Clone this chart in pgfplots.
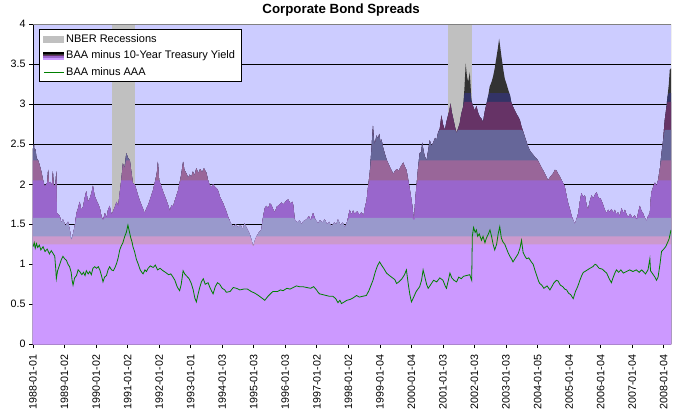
\documentclass[border=0pt]{standalone}
\usepackage{pgfplots}
\pgfplotsset{compat=1.18}
\usepackage{pgfplotstable}
\usepackage{fontspec}
\setmainfont{Liberation Sans}
\definecolor{bgc}{RGB}{204,204,255}
\definecolor{recgray}{RGB}{192,192,192}
\definecolor{cA}{RGB}{51,51,51}
\definecolor{cB}{RGB}{51,51,102}
\definecolor{cC}{RGB}{102,51,102}
\definecolor{cD}{RGB}{102,102,153}
\definecolor{cE}{RGB}{153,102,153}
\definecolor{cF}{RGB}{153,102,204}
\definecolor{cG}{RGB}{153,153,204}
\definecolor{cH}{RGB}{204,153,204}
\definecolor{cI}{RGB}{204,153,255}
\definecolor{lgreen}{RGB}{0,128,0}
\definecolor{bordergray}{RGB}{128,128,128}

\pgfplotstableread{
x y
1988.00 2.45
1988.03 2.50
1988.05 2.40
1988.08 2.44
1988.11 2.33
1988.16 2.30
1988.21 2.24
1988.27 2.15
1988.32 2.05
1988.37 1.97
1988.45 2.02
1988.48 2.18
1988.51 2.01
1988.56 2.03
1988.60 1.98
1988.63 2.16
1988.66 1.97
1988.71 1.99
1988.74 2.16
1988.76 1.64
1988.85 1.60
1988.90 1.52
1988.95 1.56
1989.03 1.48
1989.11 1.53
1989.17 1.42
1989.22 1.30
1989.27 1.38
1989.32 1.47
1989.38 1.64
1989.43 1.70
1989.48 1.78
1989.53 1.68
1989.59 1.72
1989.64 1.83
1989.69 1.91
1989.74 1.78
1989.80 1.82
1989.86 1.90
1989.90 1.98
1989.95 1.86
1990.01 1.80
1990.06 1.76
1990.12 1.70
1990.17 1.60
1990.22 1.55
1990.28 1.64
1990.33 1.58
1990.38 1.68
1990.43 1.73
1990.49 1.62
1990.54 1.66
1990.60 1.72
1990.65 1.78
1990.70 1.72
1990.75 1.89
1990.80 2.05
1990.85 2.26
1990.90 2.20
1990.96 2.39
1991.01 2.33
1991.07 2.30
1991.12 2.15
1991.17 2.01
1991.22 2.00
1991.28 1.93
1991.33 1.86
1991.38 1.80
1991.46 1.72
1991.54 1.64
1991.60 1.70
1991.65 1.74
1991.72 1.82
1991.81 1.93
1991.88 2.05
1991.93 2.15
1991.96 2.28
1992.00 2.05
1992.07 1.97
1992.15 1.88
1992.23 1.80
1992.30 1.72
1992.34 1.66
1992.39 1.74
1992.44 1.72
1992.50 1.80
1992.55 1.86
1992.60 1.92
1992.65 2.02
1992.70 2.12
1992.76 2.28
1992.80 2.18
1992.87 2.13
1992.92 2.08
1992.97 2.12
1993.02 2.09
1993.07 2.16
1993.12 2.11
1993.18 2.20
1993.24 2.14
1993.30 2.19
1993.36 2.15
1993.42 2.20
1993.50 2.14
1993.55 2.05
1993.60 1.99
1993.66 1.96
1993.71 2.00
1993.76 1.97
1993.82 1.95
1993.87 1.92
1993.93 1.84
1993.98 1.80
1994.03 1.76
1994.08 1.71
1994.13 1.66
1994.18 1.60
1994.24 1.54
1994.29 1.50
1994.37 1.47
1994.43 1.50
1994.50 1.46
1994.58 1.49
1994.65 1.44
1994.71 1.51
1994.78 1.45
1994.87 1.38
1994.93 1.30
1994.98 1.22
1995.04 1.30
1995.09 1.35
1995.17 1.40
1995.24 1.43
1995.30 1.60
1995.35 1.70
1995.40 1.73
1995.46 1.70
1995.51 1.76
1995.56 1.74
1995.62 1.68
1995.67 1.65
1995.73 1.72
1995.80 1.74
1995.88 1.77
1995.95 1.75
1996.02 1.79
1996.09 1.81
1996.16 1.76
1996.22 1.78
1996.25 1.74
1996.30 1.56
1996.38 1.52
1996.45 1.55
1996.51 1.50
1996.58 1.54
1996.67 1.56
1996.75 1.60
1996.80 1.55
1996.88 1.64
1996.95 1.56
1997.04 1.51
1997.10 1.55
1997.18 1.52
1997.25 1.56
1997.32 1.50
1997.39 1.53
1997.46 1.47
1997.55 1.52
1997.62 1.50
1997.67 1.56
1997.75 1.49
1997.82 1.52
1997.89 1.46
1997.97 1.54
1998.04 1.68
1998.10 1.62
1998.15 1.67
1998.20 1.63
1998.28 1.66
1998.35 1.62
1998.42 1.65
1998.48 1.60
1998.52 1.70
1998.58 1.80
1998.62 1.95
1998.68 2.15
1998.73 2.43
1998.76 2.62
1998.78 2.73
1998.81 2.56
1998.84 2.50
1998.89 2.61
1998.94 2.57
1998.98 2.63
1999.02 2.52
1999.05 2.56
1999.10 2.46
1999.15 2.39
1999.22 2.30
1999.31 2.22
1999.36 2.18
1999.42 2.13
1999.47 2.16
1999.53 2.19
1999.60 2.17
1999.66 2.22
1999.74 2.27
1999.79 2.22
1999.84 2.18
1999.90 2.05
1999.95 1.93
2000.02 1.75
2000.08 1.55
2000.12 1.80
2000.16 1.98
2000.21 2.20
2000.26 2.39
2000.31 2.40
2000.34 2.52
2000.37 2.45
2000.42 2.35
2000.48 2.30
2000.53 2.42
2000.58 2.55
2000.64 2.48
2000.69 2.52
2000.75 2.58
2000.80 2.56
2000.84 2.64
2000.90 2.70
2000.95 2.86
2001.00 2.75
2001.06 2.68
2001.11 2.78
2001.16 2.86
2001.20 2.92
2001.24 3.01
2001.28 2.90
2001.32 2.83
2001.38 2.72
2001.43 2.64
2001.48 2.70
2001.53 2.76
2001.58 2.88
2001.64 2.97
2001.68 3.20
2001.72 3.51
2001.76 3.35
2001.80 3.28
2001.85 3.40
2001.88 3.20
2001.90 3.05
2001.95 2.98
2002.01 2.92
2002.06 2.98
2002.11 2.90
2002.17 2.84
2002.22 2.82
2002.27 2.78
2002.32 2.90
2002.38 3.01
2002.43 3.10
2002.48 3.22
2002.54 3.28
2002.59 3.35
2002.64 3.45
2002.70 3.60
2002.74 3.70
2002.78 3.82
2002.82 3.70
2002.86 3.58
2002.91 3.44
2002.96 3.32
2003.01 3.26
2003.07 3.18
2003.12 3.12
2003.17 3.02
2003.22 2.97
2003.28 2.92
2003.33 2.88
2003.39 2.84
2003.44 2.80
2003.49 2.72
2003.54 2.66
2003.59 2.60
2003.64 2.54
2003.70 2.47
2003.76 2.42
2003.81 2.39
2003.86 2.37
2003.91 2.34
2003.97 2.32
2004.02 2.29
2004.07 2.25
2004.12 2.21
2004.18 2.17
2004.23 2.13
2004.28 2.09
2004.33 2.05
2004.38 2.08
2004.44 2.11
2004.50 2.14
2004.55 2.18
2004.60 2.17
2004.65 2.13
2004.70 2.10
2004.76 2.05
2004.81 2.01
2004.86 1.97
2004.92 1.85
2004.97 1.76
2005.03 1.68
2005.08 1.60
2005.13 1.55
2005.18 1.50
2005.24 1.57
2005.29 1.64
2005.34 1.78
2005.39 1.89
2005.44 1.84
2005.50 1.86
2005.55 1.74
2005.60 1.68
2005.65 1.78
2005.71 1.86
2005.76 1.82
2005.82 1.87
2005.87 1.90
2005.93 1.83
2006.00 1.82
2006.03 1.79
2006.08 1.74
2006.13 1.68
2006.18 1.64
2006.24 1.68
2006.29 1.65
2006.34 1.69
2006.40 1.64
2006.45 1.68
2006.50 1.62
2006.55 1.65
2006.61 1.60
2006.66 1.70
2006.72 1.64
2006.77 1.68
2006.82 1.62
2006.87 1.59
2006.94 1.63
2007.00 1.58
2007.08 1.61
2007.14 1.56
2007.20 1.66
2007.24 1.73
2007.29 1.67
2007.35 1.63
2007.40 1.58
2007.45 1.54
2007.50 1.60
2007.56 1.64
2007.58 1.78
2007.61 1.90
2007.66 1.96
2007.72 2.02
2007.77 1.98
2007.82 2.05
2007.88 2.20
2007.93 2.39
2007.98 2.55
2008.03 2.80
2008.08 2.95
2008.12 3.10
2008.16 3.25
2008.19 3.43
2008.23 3.45
}\areadata

\pgfplotstableread{
x y
1988.00 1.22
1988.04 1.27
1988.07 1.20
1988.11 1.26
1988.15 1.21
1988.20 1.24
1988.25 1.18
1988.32 1.22
1988.38 1.16
1988.45 1.19
1988.52 1.13
1988.58 1.17
1988.63 1.14
1988.69 1.10
1988.72 0.95
1988.74 0.82
1988.78 0.92
1988.85 1.00
1988.90 1.06
1988.95 1.10
1989.00 1.07
1989.06 1.05
1989.11 1.00
1989.16 0.97
1989.21 0.90
1989.24 0.80
1989.27 0.74
1989.32 0.83
1989.38 0.86
1989.43 0.93
1989.48 0.91
1989.55 0.87
1989.60 0.90
1989.65 0.86
1989.69 0.92
1989.75 0.88
1989.80 0.91
1989.85 0.87
1989.90 0.95
1989.96 0.97
1990.01 0.95
1990.07 0.97
1990.12 0.93
1990.17 0.86
1990.22 0.78
1990.27 0.84
1990.33 0.86
1990.38 0.93
1990.43 0.97
1990.49 0.93
1990.55 0.92
1990.60 0.96
1990.65 1.01
1990.70 1.08
1990.75 1.18
1990.80 1.23
1990.85 1.27
1990.91 1.35
1990.96 1.40
1991.01 1.49
1991.05 1.42
1991.10 1.33
1991.14 1.28
1991.17 1.22
1991.22 1.16
1991.28 1.06
1991.33 1.01
1991.40 0.93
1991.45 0.90
1991.49 0.88
1991.55 0.93
1991.60 0.91
1991.65 0.95
1991.72 0.98
1991.81 0.96
1991.88 0.99
1991.95 0.93
1992.03 0.95
1992.12 0.92
1992.20 0.90
1992.30 0.87
1992.37 0.88
1992.44 0.84
1992.50 0.80
1992.56 0.73
1992.60 0.70
1992.65 0.67
1992.70 0.75
1992.76 0.92
1992.81 0.88
1992.88 0.85
1992.95 0.82
1993.02 0.76
1993.08 0.68
1993.13 0.58
1993.18 0.53
1993.23 0.62
1993.28 0.70
1993.34 0.78
1993.40 0.82
1993.46 0.75
1993.55 0.77
1993.62 0.70
1993.67 0.66
1993.71 0.63
1993.78 0.72
1993.85 0.77
1993.92 0.75
1994.00 0.70
1994.08 0.68
1994.13 0.65
1994.25 0.66
1994.35 0.71
1994.45 0.70
1994.56 0.68
1994.68 0.69
1994.80 0.69
1994.92 0.66
1995.03 0.64
1995.15 0.61
1995.25 0.58
1995.35 0.55
1995.45 0.60
1995.55 0.64
1995.61 0.66
1995.75 0.66
1995.85 0.68
1995.93 0.67
1996.05 0.70
1996.15 0.69
1996.25 0.71
1996.35 0.73
1996.45 0.72
1996.56 0.72
1996.68 0.71
1996.80 0.70
1996.90 0.72
1996.99 0.68
1997.04 0.65
1997.09 0.63
1997.20 0.62
1997.30 0.61
1997.40 0.60
1997.51 0.60
1997.60 0.57
1997.67 0.52
1997.73 0.55
1997.78 0.51
1997.83 0.52
1997.95 0.55
1998.05 0.56
1998.15 0.58
1998.26 0.61
1998.35 0.59
1998.45 0.60
1998.57 0.61
1998.65 0.67
1998.72 0.74
1998.78 0.80
1998.85 0.90
1998.92 0.98
1998.99 1.03
1999.05 0.99
1999.12 0.95
1999.21 0.89
1999.30 0.86
1999.40 0.83
1999.47 0.81
1999.53 0.76
1999.60 0.78
1999.70 0.82
1999.78 0.87
1999.84 0.93
1999.90 0.75
1999.95 0.62
2000.00 0.53
2000.06 0.58
2000.15 0.66
2000.26 0.72
2000.32 0.80
2000.37 0.93
2000.42 0.85
2000.48 0.75
2000.53 0.70
2000.60 0.74
2000.70 0.80
2000.80 0.78
2000.90 0.83
2001.00 0.80
2001.07 0.73
2001.11 0.70
2001.17 0.80
2001.22 0.89
2001.28 0.83
2001.35 0.80
2001.43 0.78
2001.50 0.84
2001.58 0.82
2001.65 0.85
2001.75 0.86
2001.85 0.87
2001.91 0.80
2001.93 1.35
2001.97 1.46
2002.02 1.40
2002.06 1.43
2002.10 1.35
2002.15 1.38
2002.22 1.30
2002.27 1.35
2002.33 1.27
2002.38 1.33
2002.44 1.38
2002.49 1.43
2002.54 1.35
2002.59 1.25
2002.64 1.18
2002.70 1.25
2002.75 1.38
2002.80 1.47
2002.85 1.33
2002.90 1.28
2002.96 1.25
2003.01 1.20
2003.07 1.14
2003.12 1.10
2003.17 1.07
2003.22 1.03
2003.30 1.08
2003.38 1.13
2003.44 1.20
2003.49 1.30
2003.54 1.15
2003.60 1.10
2003.65 1.07
2003.72 1.08
2003.80 1.03
2003.86 1.00
2003.92 0.92
2003.98 0.85
2004.03 0.79
2004.07 0.76
2004.13 0.74
2004.20 0.70
2004.30 0.73
2004.39 0.68
2004.45 0.72
2004.52 0.77
2004.60 0.80
2004.65 0.79
2004.72 0.74
2004.80 0.72
2004.86 0.69
2004.92 0.68
2004.98 0.64
2005.05 0.62
2005.13 0.57
2005.20 0.66
2005.27 0.72
2005.34 0.80
2005.40 0.86
2005.45 0.90
2005.50 0.91
2005.58 0.93
2005.66 0.95
2005.75 0.97
2005.82 1.00
2005.87 0.99
2005.95 0.95
2006.05 0.94
2006.13 0.91
2006.19 0.89
2006.27 0.82
2006.34 0.77
2006.40 0.84
2006.46 0.90
2006.50 0.93
2006.57 0.90
2006.64 0.93
2006.72 0.89
2006.82 0.91
2006.92 0.93
2007.02 0.91
2007.13 0.93
2007.22 0.90
2007.30 0.93
2007.35 0.91
2007.42 0.88
2007.50 0.93
2007.56 1.07
2007.58 0.92
2007.65 0.88
2007.72 0.84
2007.77 0.80
2007.82 0.84
2007.88 1.00
2007.93 1.16
2008.00 1.19
2008.06 1.22
2008.12 1.27
2008.17 1.32
2008.23 1.43
}\aaadata

\pgfplotsset{band/.style 2 args={forget plot, draw=none, fill=#1, y filter/.expression={min(y,#2)}}}

\begin{document}
\begin{tikzpicture}
\begin{axis}[
  scale only axis, width=638pt, height=320pt,
  xmin=1988, xmax=2008.23, ymin=0, ymax=4,
  axis background/.style={fill=bgc},
  axis x line*=bottom, axis y line*=left,
  axis line style={black, line width=0.8pt},
  ytick={0,0.5,1,1.5,2,2.5,3,3.5,4},
  ymajorgrids, grid style={black, line width=0.8pt},
  xtick={1988,1989,1990,1991,1992,1993,1994,1995,1996,1997,1998,1999,2000,2001,2002,2003,2004,2005,2006,2007,2008},
  xticklabels={1988-01-01,1989-01-02,1990-01-02,1991-01-02,1992-01-02,1993-01-01,1994-01-03,1995-01-03,1996-01-03,1997-01-02,1998-01-02,1999-01-04,2000-01-04,2001-01-03,2002-01-03,2003-01-03,2004-01-05,2005-01-04,2006-01-04,2007-01-04,2008-01-04},
  xticklabel style={rotate=90, anchor=east},
  xticklabel shift=3pt,
  tick align=outside, major tick length=4pt,
  tick style={black, line width=0.8pt},
  tick label style={font=\fontsize{10.7}{12}\selectfont},
  /pgf/number format/assume math mode=true,
  title={Corporate Bond Spreads},
  title style={at={(0.483,1)}, anchor=base, yshift=5pt, font=\bfseries\fontsize{13.3}{15}\selectfont},
  legend style={at={(axis description cs:0.0094,0.985)}, anchor=north west,
    draw=black, line width=0.8pt, fill=white, font=\fontsize{11}{12}\selectfont,
    inner xsep=4pt, inner ysep=4pt, row sep=5.7pt,
    nodes={inner xsep=2pt, inner ysep=0pt, text height=8.5pt, text depth=2.5pt}},
  legend cell align=left,
]
\addlegendimage{legend image code/.code={\fill[recgray] (0pt,-3pt) rectangle (20pt,3pt);}}
\addlegendentry{NBER Recessions}
\addlegendimage{legend image code/.code={
  \fill[cI] (0pt,-3.5pt) rectangle (20pt,-1.5pt);
  \fill[cF] (0pt,-1.5pt) rectangle (20pt,0pt);
  \fill[cC] (0pt,0pt) rectangle (20pt,1.5pt);
  \fill[cA] (0pt,1.5pt) rectangle (20pt,2.5pt);
  \fill[black] (0pt,2.5pt) rectangle (20pt,3.5pt);}}
\addlegendentry{BAA minus 10-Year Treasury Yield}
\addlegendimage{legend image code/.code={\draw[lgreen, line width=0.8pt] (0pt,0pt) -- (20pt,0pt);}}
\addlegendentry{BAA minus AAA}

% recessions
\addplot[forget plot, draw=none, fill=recgray] coordinates {(1990.50,0) (1990.50,4) (1991.25,4) (1991.25,0)} -- cycle;
\addplot[forget plot, draw=none, fill=recgray] coordinates {(2001.17,0) (2001.17,4) (2001.92,4) (2001.92,0)} -- cycle;

% banded area
\addplot[forget plot, draw=none, fill=cA] table {\areadata} \closedcycle;
\addplot[band={cB}{3.14}] table {\areadata} \closedcycle;
\addplot[band={cC}{3.03}] table {\areadata} \closedcycle;
\addplot[band={cD}{2.68}] table {\areadata} \closedcycle;
\addplot[band={cE}{2.30}] table {\areadata} \closedcycle;
\addplot[band={cF}{2.05}] table {\areadata} \closedcycle;
\addplot[band={cG}{1.58}] table {\areadata} \closedcycle;
\addplot[band={cH}{1.35}] table {\areadata} \closedcycle;
\addplot[band={cI}{1.25}] table {\areadata} \closedcycle;

% BAA - AAA
\addplot[forget plot, lgreen, line width=0.8pt] table {\aaadata};

\draw[bordergray, line width=0.8pt] (rel axis cs:0,1) -- (rel axis cs:1,1) -- (rel axis cs:1,0);
\end{axis}
\path ([xshift=-33pt,yshift=-69.7pt]current axis.south west) rectangle ([xshift=3pt,yshift=24.3pt]current axis.north east);
\end{tikzpicture}
\end{document}
